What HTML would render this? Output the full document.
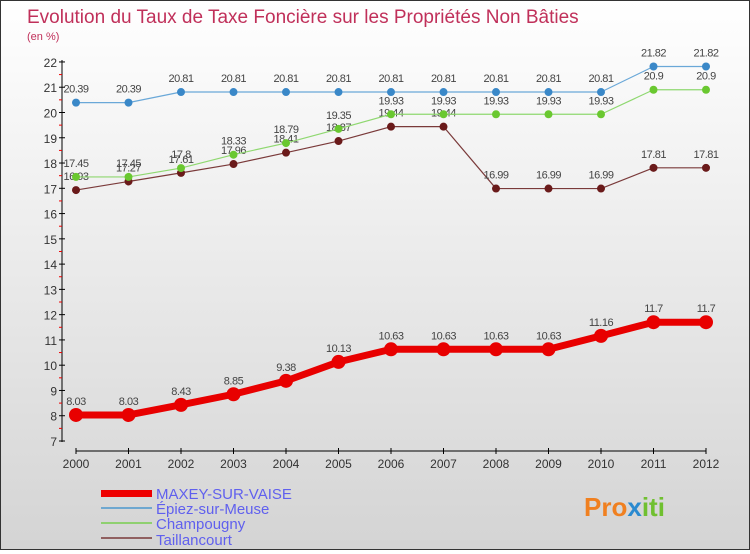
<!DOCTYPE html>
<html><head><meta charset="utf-8"><style>
body{margin:0}
#c{width:748px;height:548px;border:1px solid #333;background:linear-gradient(#fff,#d4d4d4);position:relative;font-family:"Liberation Sans",sans-serif}
</style></head><body>
<div id="c">
<svg id="s" width="748" height="548" xmlns="http://www.w3.org/2000/svg">
<text x="26" y="22" font-size="19" fill="#c0305a">Evolution du Taux de Taxe Foncière sur les Propriétés Non Bâties</text>
<text x="26" y="39" font-size="11" fill="#c0305a">(en %)</text>
<g id="ax"></g><g id="ser"></g>
<g>
<rect x="100" y="489" width="51" height="7" fill="#e00"/>
<text x="155" y="498" font-size="15" fill="#6060ee">MAXEY-SUR-VAISE</text>
<rect x="100" y="506" width="51" height="2" fill="#6fa8d0"/>
<text x="155" y="513" font-size="15" fill="#6060ee">Épiez-sur-Meuse</text>
<rect x="100" y="521" width="51" height="2" fill="#8fd070"/>
<text x="155" y="528" font-size="15" fill="#6060ee">Champougny</text>
<rect x="100" y="536" width="51" height="2" fill="#906060"/>
<text x="155" y="544" font-size="15" fill="#6060ee">Taillancourt</text>
</g>
<text x="583" y="515" font-size="26" font-weight="bold" fill="#f08020">Pro<tspan fill="#2a8ad0">x</tspan><tspan fill="#70c030">iti</tspan></text>
</svg></div>
<script>
const years=[2000,2001,2002,2003,2004,2005,2006,2007,2008,2009,2010,2011,2012];
const yTicks=[7,8,9,10,11,12,13,14,15,16,17,18,19,20,21,22];
const maxey=[8.03,8.03,8.43,8.85,9.38,10.13,10.63,10.63,10.63,10.63,11.16,11.7,11.7];
const epiez=[20.39,20.39,20.81,20.81,20.81,20.81,20.81,20.81,20.81,20.81,20.81,21.82,21.82];
const champ=[17.45,17.45,17.8,18.33,18.79,19.35,19.93,19.93,19.93,19.93,19.93,20.9,20.9];
const taill=[16.93,17.27,17.61,17.96,18.41,18.87,19.44,19.44,16.99,16.99,16.99,17.81,17.81];
const NS="http://www.w3.org/2000/svg";
const X=i=>75+i*52.5, Y=v=>440-(v-7)*25.27;
function mk(t,a,p){const e=document.createElementNS(NS,t);for(const k in a)e.setAttribute(k,a[k]);p.appendChild(e);return e;}
const ax=document.getElementById('ax');
let l=mk('line',{x1:61,y1:59,x2:61,y2:441,stroke:'#000'},ax);


l=mk('line',{x1:75,y1:450,x2:705,y2:450,stroke:'#000'},ax);


yTicks.forEach(v=>{
 mk('line',{x1:58,x2:64,y1:Y(v),y2:Y(v),stroke:'#000'},ax);
 if(v<22)mk('line',{x1:58,x2:61,y1:Y(v+0.5),y2:Y(v+0.5),stroke:'#e00'},ax);
 const t=mk('text',{x:56,y:Y(v)+5,'font-size':12,fill:'#333','text-anchor':'end'},ax);t.textContent=v;
 
 
});
years.forEach((y,i)=>{
 mk('line',{x1:X(i),x2:X(i),y1:447,y2:453,stroke:'#000'},ax);
 const t=mk('text',{x:X(i),y:467,'font-size':12,fill:'#333','text-anchor':'middle'},ax);t.textContent=y;
 
 
});
const ser=document.getElementById('ser');
function series(d,col,dot,w,r,name){
 const g=mk('g',{},ser);
 
 
 mk('polyline',{points:d.map((v,i)=>X(i)+','+Y(v)).join(' '),fill:'none',stroke:col,'stroke-width':w,'stroke-linejoin':'round'},g);
 d.forEach((v,i)=>{
  const c=mk('circle',{cx:X(i),cy:Y(v),r:r,fill:dot},g);
  
  
  const t=mk('text',{x:X(i),y:Y(v)-10,'font-size':11,fill:'#444','text-anchor':'middle','letter-spacing':'-0.5'},g);t.textContent=v;
  
  
 });
}
series(taill,'#7a3a3a','#6a1a1a',1.2,4,'series-taillancourt');
series(champ,'#8fd870','#6ac830',1.2,4,'series-champougny');
series(epiez,'#6aa8d8','#3a88c8',1.2,4,'series-epiez');
series(maxey,'#e80000','#e80000',7,7,'series-maxey');
</script>
</body></html>
